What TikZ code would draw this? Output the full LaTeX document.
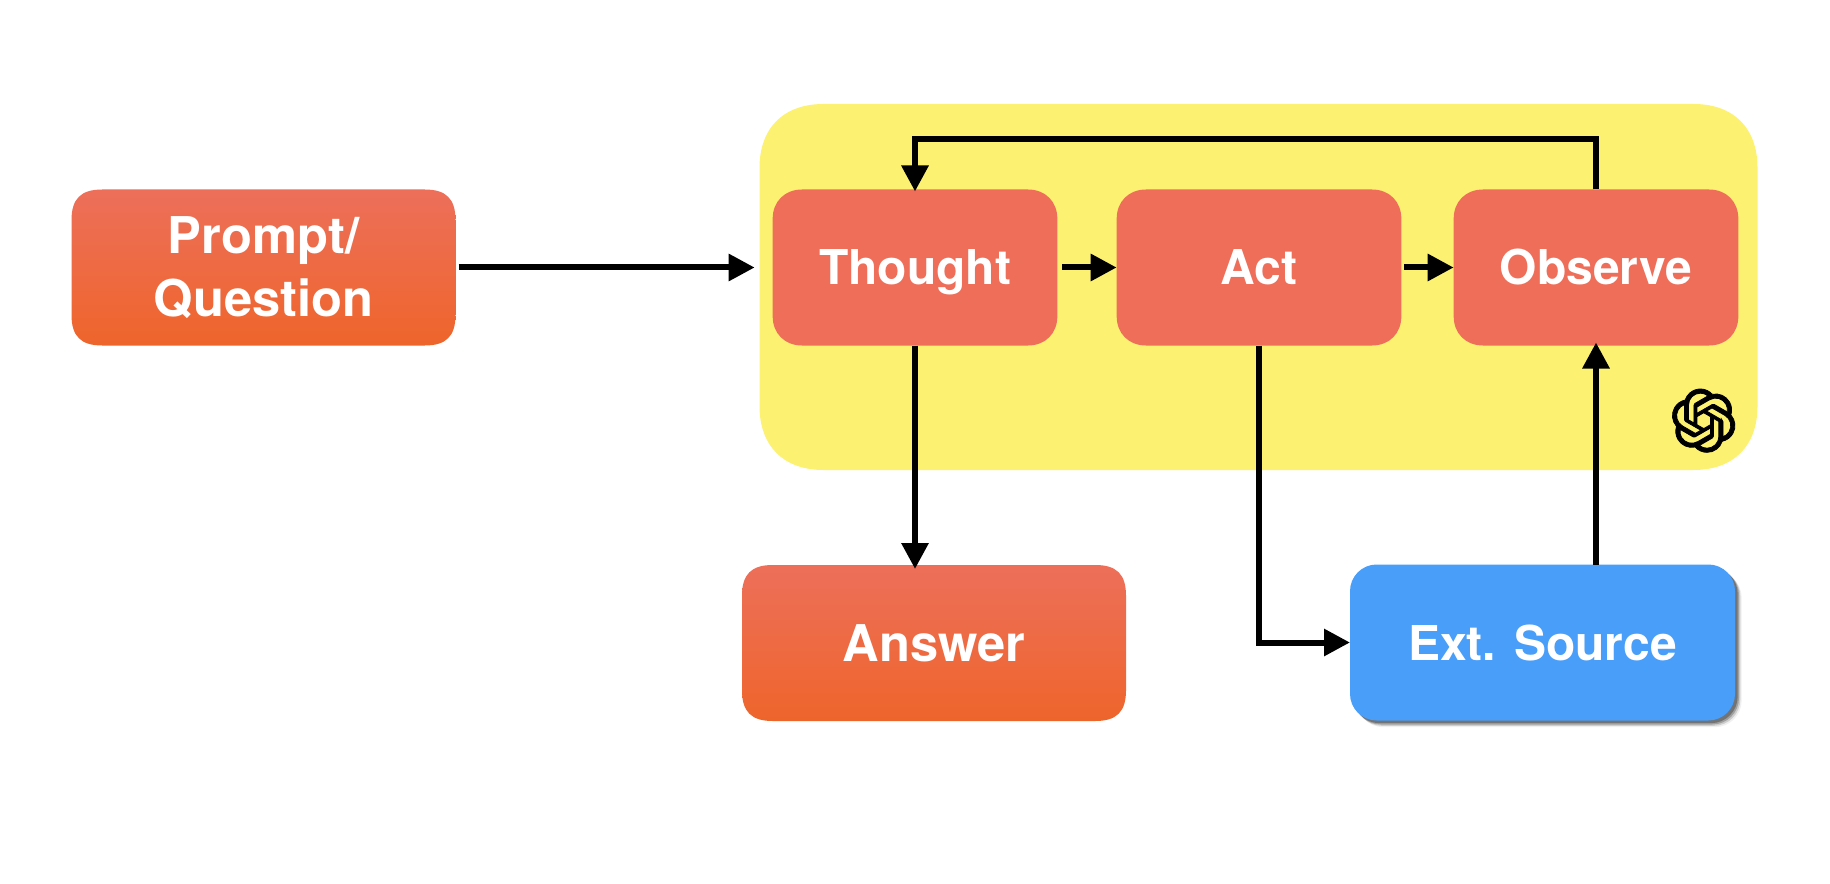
\documentclass[tikz,border=0pt]{standalone}
\usepackage{fontspec}
\setmainfont{TeX Gyre Heros}
\usetikzlibrary{arrows.meta,shadows,svg.path,calc}
\definecolor{boxflat}{HTML}{EE6E59}
\definecolor{boxtop}{HTML}{ED6F5A}
\definecolor{boxbot}{HTML}{EE652B}
\definecolor{panel}{HTML}{FCF171}
\definecolor{blueb}{HTML}{489EF8}
\newdimen\sqxa \newdimen\sqya \newdimen\sqxb \newdimen\sqyb
\makeatletter
\def\sqrad{24pt}
\def\sqctl{6pt}
\pgfdeclareshape{softbox}{
  \inheritsavedanchors[from=rectangle]
  \inheritanchorborder[from=rectangle]
  \inheritanchor[from=rectangle]{center}
  \inheritanchor[from=rectangle]{text}
  \inheritanchor[from=rectangle]{north}
  \inheritanchor[from=rectangle]{south}
  \inheritanchor[from=rectangle]{east}
  \inheritanchor[from=rectangle]{west}
  \backgroundpath{
    \southwest \sqxa=\pgf@x \sqya=\pgf@y
    \northeast \sqxb=\pgf@x \sqyb=\pgf@y
    \pgfpathmoveto{\pgfpoint{\sqxa+\sqrad}{\sqya}}
    \pgfpathlineto{\pgfpoint{\sqxb-\sqrad}{\sqya}}
    \pgfpathcurveto{\pgfpoint{\sqxb-\sqctl}{\sqya}}{\pgfpoint{\sqxb}{\sqya+\sqctl}}{\pgfpoint{\sqxb}{\sqya+\sqrad}}
    \pgfpathlineto{\pgfpoint{\sqxb}{\sqyb-\sqrad}}
    \pgfpathcurveto{\pgfpoint{\sqxb}{\sqyb-\sqctl}}{\pgfpoint{\sqxb-\sqctl}{\sqyb}}{\pgfpoint{\sqxb-\sqrad}{\sqyb}}
    \pgfpathlineto{\pgfpoint{\sqxa+\sqrad}{\sqyb}}
    \pgfpathcurveto{\pgfpoint{\sqxa+\sqctl}{\sqyb}}{\pgfpoint{\sqxa}{\sqyb-\sqctl}}{\pgfpoint{\sqxa}{\sqyb-\sqrad}}
    \pgfpathlineto{\pgfpoint{\sqxa}{\sqya+\sqrad}}
    \pgfpathcurveto{\pgfpoint{\sqxa}{\sqya+\sqctl}}{\pgfpoint{\sqxa+\sqctl}{\sqya}}{\pgfpoint{\sqxa+\sqrad}{\sqya}}
    \pgfpathclose
  }
}
\makeatother
\tikzset{
  px/.style={x=0.75pt,y=-0.75pt},
  softrad/.code 2 args={\def\sqrad{#1}\def\sqctl{#2}},
  basebox/.style={text=white,align=center,inner sep=0pt,outer sep=0pt,
    font=\fontsize{36}{47}\selectfont\bfseries,minimum height=117pt},
  flatbox/.style={basebox,shape=softbox,softrad={22pt}{9pt},fill=boxflat,minimum width=213.5pt},
  gradbox/.style={basebox,shape=softbox,softrad={23pt}{7pt},font=\fontsize{38}{47}\selectfont\bfseries,
    top color=boxtop,bottom color=boxbot,minimum width=288pt},
  bluebox/.style={basebox,rounded corners=20pt,fill=blueb,minimum width=288.75pt,
    general shadow={shadow xshift=5pt,shadow yshift=-5pt,fill=black,opacity=.06},
    general shadow={shadow xshift=4pt,shadow yshift=-4pt,fill=black,opacity=.14},
    general shadow={shadow xshift=3pt,shadow yshift=-3pt,fill=black,opacity=.22},
    general shadow={shadow xshift=2pt,shadow yshift=-2pt,fill=black,opacity=.28}},
  panelbox/.style={shape=softbox,softrad={48pt}{18pt},fill=panel,inner sep=0pt,outer sep=0pt,minimum width=748.5pt,minimum height=274.5pt},
  conn/.style={line width=4.5pt,-{Triangle[length=19.5pt,width=19.5pt]}},
}
\begin{document}
\begin{tikzpicture}[px]
\useasboundingbox (0,0) rectangle (1830,884);
\fill[white] (0,0) rectangle (1830,884);
\node[panelbox] (panelgroup) at (1258.5,287) {};
\node[gradbox] (prompt) at (263.5,267.5) {Prompt/\\Question};
\node[flatbox,text depth=0pt] (thought) at (915,267.5) {Thought};
\node[flatbox] (act) at (1259,267.5) {Act};
\node[flatbox] (observe) at (1596,267.5) {Observe};
\node[gradbox] (answer) at (934,643) {Answer};
\node[bluebox] (ext) at (1542.5,642.5) {Ext. Source};
\begin{scope}[shift={(1672,389)},xscale=1.98,yscale=-1.98]
\filldraw[black,line width=0.6pt,even odd rule] svg "M 22.2819 9.8211 a 5.9847 5.9847 0 0 0 -0.5157 -4.9108 6.0462 6.0462 0 0 0 -6.5098 -2.9 A 6.0651 6.0651 0 0 0 4.9807 4.1818 a 5.9847 5.9847 0 0 0 -3.9977 2.9 6.0462 6.0462 0 0 0 0.7427 7.0966 5.98 5.98 0 0 0 0.511 4.9107 6.051 6.051 0 0 0 6.5146 2.9001 A 5.9847 5.9847 0 0 0 13.2599 24 a 6.0557 6.0557 0 0 0 5.7718 -4.2058 5.9894 5.9894 0 0 0 3.9977 -2.9001 6.0557 6.0557 0 0 0 -0.7475 -7.0729 z M 13.2599 22.4292 a 4.4755 4.4755 0 0 1 -2.8764 -1.0408 l 0.1419 -0.0804 4.7783 -2.7582 a 0.7948 0.7948 0 0 0 0.3927 -0.6813 v -6.7369 l 2.02 1.1686 a 0.071 0.071 0 0 1 0.038 0.052 v 5.5826 a 4.504 4.504 0 0 1 -4.4945 4.4944 z M 3.5992 18.3038 a 4.4708 4.4708 0 0 1 -0.5346 -3.0137 l 0.142 0.0852 4.783 2.7582 a 0.7712 0.7712 0 0 0 0.7806 0 l 5.8428 -3.3685 v 2.3324 a 0.0804 0.0804 0 0 1 -0.0332 0.0615 L 9.74 19.9502 a 4.4992 4.4992 0 0 1 -6.1408 -1.6464 z M 2.3408 7.8956 a 4.485 4.485 0 0 1 2.3655 -1.9728 V 11.6 a 0.7664 0.7664 0 0 0 0.3879 0.6765 l 5.8144 3.3543 -2.0201 1.1685 a 0.0757 0.0757 0 0 1 -0.071 0 l -4.8303 -2.7865 A 4.504 4.504 0 0 1 2.3408 7.872 z M 18.9371 11.7514 L 13.1038 8.364 15.1192 7.2 a 0.0757 0.0757 0 0 1 0.071 0 l 4.8303 2.7913 a 4.4944 4.4944 0 0 1 -0.6765 8.1042 v -5.6772 a 0.79 0.79 0 0 0 -0.407 -0.667 z M 20.9478 8.7283 l -0.142 -0.0852 -4.7735 -2.7818 a 0.7759 0.7759 0 0 0 -0.7854 0 L 9.409 9.2297 V 6.8974 a 0.0662 0.0662 0 0 1 0.0284 -0.0615 l 4.8303 -2.7866 a 4.4992 4.4992 0 0 1 6.6802 4.66 z M 8.3065 12.863 l -2.02 -1.1638 a 0.0804 0.0804 0 0 1 -0.038 -0.0567 V 6.0742 a 4.4992 4.4992 0 0 1 7.3757 -3.4537 l -0.142 0.0805 L 8.704 5.459 a 0.7948 0.7948 0 0 0 -0.3927 0.6813 z M 9.4041 10.4976 l 2.602 -1.4998 2.6069 1.4998 v 2.9994 l -2.5974 1.4997 -2.6067 -1.4997 z";
\end{scope}
\draw[conn,shorten <=2.25pt,shorten >=13.5pt] (prompt.east) -- (thought.west);
\draw[conn,shorten <=3.75pt] (thought.east) -- (act.west);
\draw[conn,shorten <=2.25pt] (act.east) -- (observe.west);
\draw[conn,shorten >=-1.5pt] (observe.north) -- ++(0,-50) -| (thought.north);
\draw[conn,shorten >=-3pt] (thought.south) -- (thought.south |- answer.north);
\draw[conn] (act.south) |- (ext.west);
\draw[conn,shorten >=-2.25pt] (observe.south |- ext.north) -- (observe.south);
\end{tikzpicture}
\end{document}
